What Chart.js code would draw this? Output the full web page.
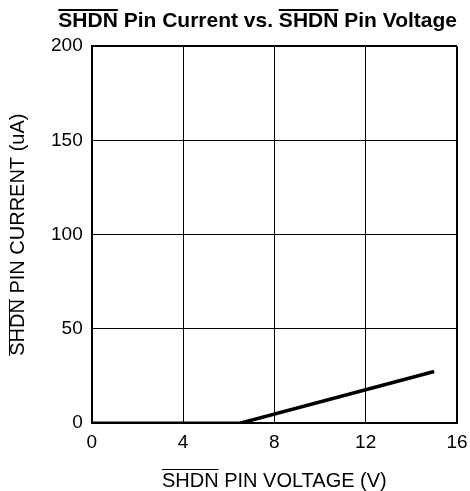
<!DOCTYPE html>
<html>
<head>
<meta charset="utf-8">
<script src="https://cdn.jsdelivr.net/npm/chart.js@4.4.0/dist/chart.umd.min.js"></script>
<style>
    html, body { margin: 0; padding: 0; background: #fff; }
</style>
</head>
<body>
<canvas id="myChart" width="470" height="491"></canvas>
<script>

const TITULO = 'SHDN Pin Current vs. SHDN Pin Voltage'
const TITULO_X = 'SHDN PIN VOLTAGE (V)'
const TITULO_Y = 'SHDN PIN CURRENT (uA)'
const voltaje = [0, 6.5, 15]
const corriente = [0, 0, 27.4]
const ticksX = [0, 4, 8, 12, 16]
const ticksY = [0, 50, 100, 150, 200]

const FUENTE = '"Liberation Sans", Arial, sans-serif'

// rayita encima de "SHDN" (senal activa baja)
const sobrelinea = {
    id: 'sobrelinea',
    afterDraw(chart) {
        const ctx = chart.ctx
        ctx.save()
        ctx.strokeStyle = '#000'

        // titulo principal
        const tb = chart.titleBlock
        ctx.font = 'bold 21px ' + FUENTE
        const ancho = ctx.measureText(TITULO).width
        const wS = ctx.measureText('SHDN').width
        const x0 = tb.right - ancho
        const cy = tb.top + 9 + 12.6
        const x1 = x0 + ctx.measureText('SHDN Pin Current vs. ').width
        ctx.lineWidth = 2
        ctx.beginPath()
        ctx.moveTo(x0, cy - 11.5); ctx.lineTo(x0 + wS, cy - 11.5)
        ctx.moveTo(x1, cy - 11.5); ctx.lineTo(x1 + wS, cy - 11.5)
        ctx.stroke()

        // eje x
        const sx = chart.scales.x
        ctx.font = '20px ' + FUENTE
        const anchoX = ctx.measureText(TITULO_X).width
        const wSx = ctx.measureText('SHDN').width
        const cxX = (sx.left + sx.right) / 2
        const cyX = sx.bottom - 10
        ctx.lineWidth = 1
        ctx.beginPath()
        ctx.moveTo(cxX - anchoX / 2, cyX - 11.5); ctx.lineTo(cxX - anchoX / 2 + wSx, cyX - 11.5)
        ctx.stroke()

        // eje y (texto girado)
        const sy = chart.scales.y
        const anchoY = ctx.measureText(TITULO_Y).width
        const cxY = sy.left + 10 + 8
        const cyY = (sy.top + sy.bottom) / 2
        ctx.beginPath()
        ctx.moveTo(cxY - 8.5, cyY + anchoY / 2); ctx.lineTo(cxY - 8.5, cyY + anchoY / 2 - wSx)
        ctx.stroke()

        ctx.restore()
    }
}

const puntos = voltaje.map((v, i) => ({ x: v, y: corriente[i] }))

const ctx = document.getElementById('myChart')
const myChart = new Chart(ctx, {
    type: 'line',
    data: {
        datasets: [{
            data: puntos,
            borderColor: '#000',
            borderWidth: 3.5,
            pointRadius: 0,
            tension: 0,
            fill: false
        }]
    },
    options: {
        responsive: false,
        animation: false,
        devicePixelRatio: 1,
        layout: { padding: { right: 13, left: 0, top: 0, bottom: 0 } },
        plugins: {
            legend: { display: false },
            tooltip: { enabled: false },
            title: {
                display: true,
                text: TITULO,
                align: 'end',
                color: '#000',
                font: { family: FUENTE, size: 21, weight: 'bold', lineHeight: 1.2 },
                padding: { top: 9, bottom: 12 }
            }
        },
        scales: {
            x: {
                type: 'linear',
                min: 0,
                max: 16,
                afterBuildTicks: axis => { axis.ticks = ticksX.map(v => ({ value: v })) },
                afterFit: axis => { axis.paddingRight = 0 },
                grid: { color: '#000', lineWidth: c => (c.tick && c.tick.value === 16) ? 2 : 1, drawTicks: false },
                border: { color: '#000', width: 2 },
                ticks: { color: '#000', padding: 8, font: { family: FUENTE, size: 19 } },
                title: {
                    display: true,
                    text: TITULO_X,
                    color: '#000',
                    font: { family: FUENTE, size: 20, lineHeight: 1 },
                    padding: { top: 9, bottom: 0 }
                }
            },
            y: {
                min: 0,
                max: 200,
                afterBuildTicks: axis => { axis.ticks = ticksY.map(v => ({ value: v })) },
                grid: { color: '#000', lineWidth: c => (c.tick && c.tick.value === 200) ? 2 : 1, drawTicks: false },
                border: { color: '#000', width: 2 },
                ticks: { color: '#000', padding: 9, font: { family: FUENTE, size: 19 } },
                title: {
                    display: true,
                    text: TITULO_Y,
                    color: '#000',
                    font: { family: FUENTE, size: 20, lineHeight: 1 },
                    padding: { top: 8, bottom: 14 }
                }
            }
        }
    },
    plugins: [sobrelinea]
})

</script>
</body>
</html>
